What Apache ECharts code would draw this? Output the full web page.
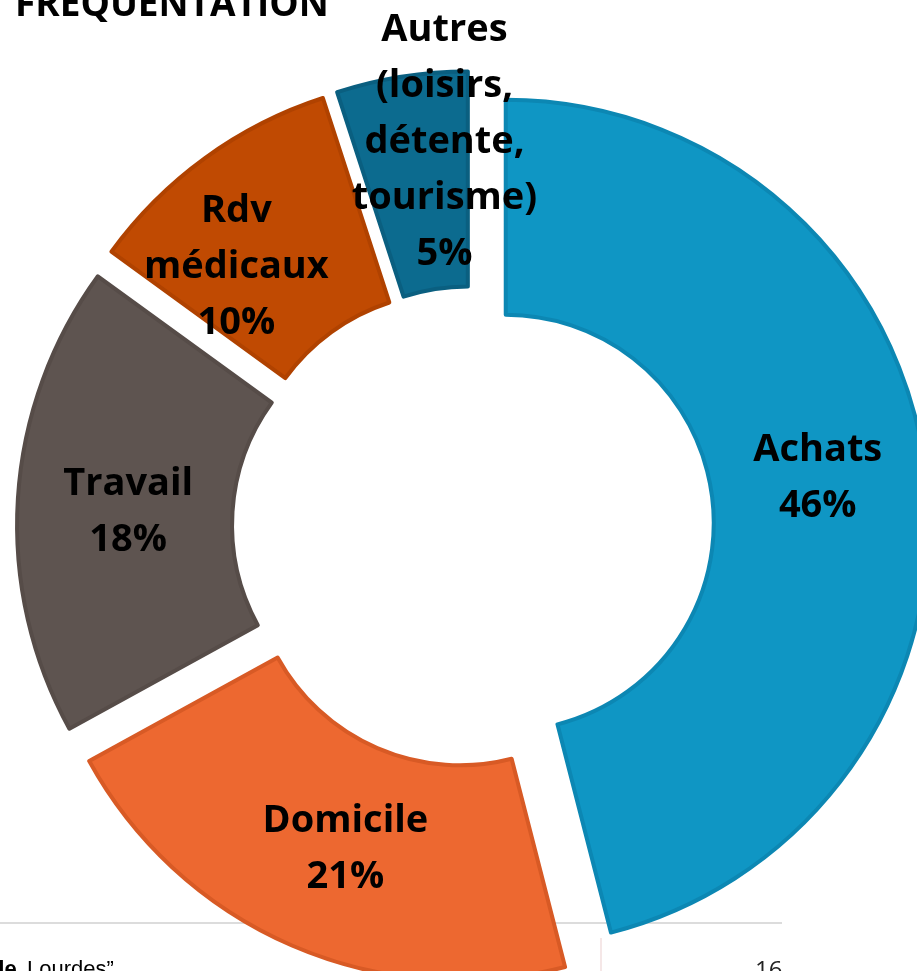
<!DOCTYPE html>
<html>
<head>
<meta charset="utf-8">
<style>
  html, body { margin: 0; padding: 0; background: #ffffff; }
  #chart { width: 917px; height: 971px; }
</style>
<script src="https://cdn.jsdelivr.net/npm/echarts@6/dist/echarts.min.js"></script>
</head>
<body>
<div id="chart"></div>
<script>
// ---- data ----
const categories = ['Achats', 'Domicile', 'Travail', 'Rdv médicaux', 'Autres (loisirs, détente, tourisme)'];
const values = [46, 21, 18, 10, 5];
const labelTexts = ['Achats', 'Domicile', 'Travail', 'Rdv\nmédicaux', 'Autres\n(loisirs,\ndétente,\ntourisme)'];

// ---- styles ----
const fillColors = ['#0F96C4', '#ED6830', '#5E5450', '#C04A02', '#0C6B8F'];
const borderColors = ['#0C87B3', '#D85A25', '#564C48', '#B04200', '#0A5F80'];
const labelShift = [[-4, -5], [12, 0], [6, 7], [-30, 25], [26, -41]];
const SEL_OFFSET = 33;
const LABEL_FONT = { fontFamily: '"Open Sans", sans-serif', fontWeight: 'bold', fontSize: 38, lineHeight: 56 };
// slice whose label is drawn from the library's sector layout (too big to sit inside it)
const overflowIdx = 4;

// horizontal nudge of a centred label through asymmetric padding
function shiftPadding(s) {
  const dx = s[0];
  return [0, dx < 0 ? -2 * dx : 0, 0, dx > 0 ? 2 * dx : 0];
}

const chart = echarts.init(document.getElementById('chart'), null, { renderer: 'canvas' });

const pieData = categories.map((name, i) => {
  const st = { color: fillColors[i], borderColor: borderColors[i], borderWidth: 4 };
  const dy = labelShift[i][1];
  return {
    name: name,
    value: values[i],
    selected: true,
    itemStyle: st,
    select: { itemStyle: st },
    label: {
      show: i !== overflowIdx,
      padding: shiftPadding(labelShift[i]),
      rich: { sp: { fontSize: 1, lineHeight: Math.max(1, 2 * Math.abs(dy)) } }
    }
  };
});

const baseGraphic = [
  { type: 'line', z: 0, shape: { x1: 0, y1: 923, x2: 782, y2: 923 }, style: { stroke: '#DCDCDC', lineWidth: 2 } },
  { type: 'line', z: 0, shape: { x1: 601, y1: 938, x2: 601, y2: 971 }, style: { stroke: '#EBCFCF', lineWidth: 1 } },
  { type: 'text', z: 0, x: -9, y: 959, style: { text: 'de', font: 'bold 22px "Liberation Sans", sans-serif', fill: '#000' } },
  { type: 'text', z: 0, x: 27, y: 959, style: { text: 'Lourdes”', font: '22px "Liberation Sans", sans-serif', fill: '#000' } },
  { type: 'text', z: 0, x: 755, y: 959, style: { text: '16', font: '24px "Open Sans", sans-serif', fill: '#222' } },
  { type: 'text', z: 10, x: 15, y: 24, style: { text: 'FREQUENTATION', font: 'bold 37px "Open Sans", sans-serif', fill: '#000', textVerticalAlign: 'bottom' } }
];

chart.setOption({
  animation: false,
  backgroundColor: '#ffffff',
  graphic: baseGraphic,
  series: [{
    type: 'pie',
    center: [473, 527],
    radius: [208, 423],
    startAngle: 90,
    clockwise: true,
    selectedMode: 'multiple',
    selectedOffset: SEL_OFFSET,
    avoidLabelOverlap: false,
    emphasis: { disabled: true, scale: false },
    label: Object.assign({
      show: true,
      position: 'inside',
      overflow: 'none',
      color: '#000',
      align: 'center',
      formatter: (p) => {
        const body = labelTexts[p.dataIndex] + '\n' + p.value + '%';
        const dy = labelShift[p.dataIndex][1];
        if (dy > 0) return '{sp| }\n' + body;
        if (dy < 0) return body + '\n{sp| }';
        return body;
      }
    }, LABEL_FONT),
    labelLine: { show: false },
    data: pieData
  }]
});

// Place the oversized label at the sector's own (library-computed) label anchor.
const lay = chart.getModel().getSeriesByIndex(0).getData().getItemLayout(overflowIdx);
const mid = (lay.startAngle + lay.endAngle) / 2;
const rr = SEL_OFFSET + (lay.r + lay.r0) / 2;
const lx = lay.cx + Math.cos(mid) * rr + labelShift[overflowIdx][0];
const ly = lay.cy + Math.sin(mid) * rr + labelShift[overflowIdx][1];
chart.setOption({
  graphic: baseGraphic.concat([{
    type: 'text', z: 20, x: lx, y: ly,
    style: {
      text: labelTexts[overflowIdx] + '\n' + values[overflowIdx] + '%',
      font: 'bold 38px "Open Sans", sans-serif',
      lineHeight: 56,
      fill: '#000',
      align: 'center',
      verticalAlign: 'middle'
    }
  }])
});
</script>
</body>
</html>
